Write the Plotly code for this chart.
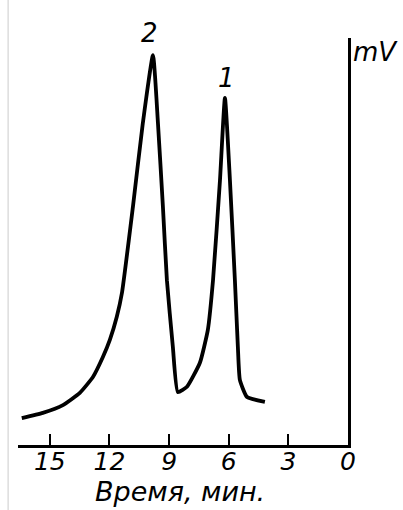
import plotly.graph_objects as go

# Chromatogram trace (time in minutes, signal in arbitrary mV units)
time_min = [16.41, 15.35, 14.34, 13.49, 12.83, 12.33, 11.98, 11.63, 11.37,
            10.82, 10.32, 9.81, 9.56, 9.31, 9.11, 8.81, 8.56,
            8.10, 7.45, 7.05, 6.79, 6.44, 6.19, 5.94, 5.69, 5.54, 5.44,
            5.08, 4.18]
signal_mv = [6.6, 7.9, 9.8, 12.8, 16.7, 21.6, 25.8, 31.5, 37.4,
             58.5, 79.1, 95.8, 79.1, 58.5, 40.5, 24.1, 13.0,
             14.3, 20.2, 28.3, 40.5, 65.1, 85.3, 65.1, 40.5, 24.1, 16.0,
             11.8, 10.6]

tick_vals = [15, 12, 9, 6, 3, 0]
tick_text = ["15", "12", "9", "6", "3", "0"]

peak_labels = ["2", "1"]
peak_times = [9.81, 6.19]
peak_heights = [95.8, 85.3]

FONT = "DejaVu Sans"

fig = go.Figure()
fig.add_trace(go.Scatter(
    x=time_min, y=signal_mv, mode="lines",
    line=dict(color="black", width=3.8, shape="spline", smoothing=0.45),
    showlegend=False, hoverinfo="skip",
))

for lab, t, h, ys, xs in zip(peak_labels, peak_times, peak_heights, [22, 20], [-3, 2]):
    fig.add_annotation(x=t, y=h, text=lab, showarrow=False, yshift=ys, xshift=xs,
                       font=dict(family=FONT, size=26, color="black", style="italic"))

fig.add_annotation(x=0, y=100, xref="x", yref="y", text="mV", showarrow=False,
                   xanchor="left", yanchor="middle", xshift=3, yshift=-14,
                   font=dict(family=FONT, size=26, color="black", style="italic"))

fig.add_annotation(x=8.45, y=0, xref="x", yref="y", text="Время, мин.",
                   showarrow=False, yshift=-46,
                   font=dict(family=FONT, size=27, color="black", style="italic"))

# faint scan border at left
fig.add_shape(type="line", xref="paper", yref="paper", x0=-0.03, x1=-0.03,
              y0=-0.2, y1=1.1, line=dict(color="#cccccc", width=1))

fig.update_layout(
    width=403, height=510,
    margin=dict(l=18, r=55, t=38, b=65),
    paper_bgcolor="white", plot_bgcolor="white",
    xaxis=dict(range=[16.6, 0], tickvals=tick_vals, ticktext=tick_text,
               showgrid=False, zeroline=False, showline=True,
               linecolor="black", linewidth=2.5,
               ticks="inside", ticklen=11, tickwidth=2, tickcolor="black",
               ticklabelstandoff=-8,
               tickfont=dict(family=FONT, size=25, color="black", style="italic")),
    yaxis=dict(range=[0, 100], side="right", showgrid=False, zeroline=False,
               showline=True, linecolor="black", linewidth=2.5,
               showticklabels=False, ticks=""),
)

fig.write_html("out.html")
